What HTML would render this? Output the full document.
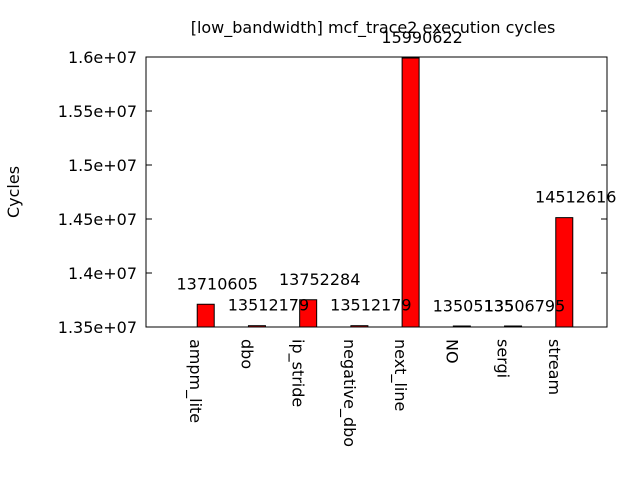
<!DOCTYPE html>
<html><head><meta charset="utf-8"><style>body{margin:0;background:#fff}svg{display:block}text{font-family:"DejaVu Sans","Liberation Sans",sans-serif;font-size:16px;fill:#000}</style></head>
<body>
<svg id="chart" width="640" height="480" viewBox="0 0 640 480">
<text x="373" y="33" text-anchor="middle">[low_bandwidth] mcf_trace2 execution cycles</text>
<text transform="translate(19,192) rotate(-90)" text-anchor="middle">Cycles</text>
<rect x="146" y="57" width="461" height="270" fill="none" stroke="#000" stroke-width="1"/>
<g id="bars"></g>
<g id="marks"></g>
</svg>
<script>
const categories = ["ampm_lite","dbo","ip_stride","negative_dbo","next_line","NO","sergi","stream"];
const values = [13710605,13512179,13752284,13512179,15990622,13505135,13506795,14512616];
const yTicks = [13500000,14000000,14500000,15000000,15500000,16000000];
const yTickLabels = ["1.35e+07","1.4e+07","1.45e+07","1.5e+07","1.55e+07","1.6e+07"];
const X0=146,X1=607,Y0=327,Y1=57,YMIN=13500000,YMAX=16000000;
function yScale(v){return Y0-(v-YMIN)/(YMAX-YMIN)*(Y0-Y1);}
function xScale(i){return X0+(X1-X0)/(categories.length+1)*(i+1);}
const g=document.getElementById('marks');
const gb=document.getElementById('bars');
const NS='http://www.w3.org/2000/svg';
function mk(t,a,p){const e=document.createElementNS(NS,t);for(const k in a)e.setAttribute(k,a[k]);(p||g).appendChild(e);return e;}
yTicks.forEach((v,i)=>{
  const y=yScale(v);
  const t1=mk('line',{x1:X0,x2:X0+6,y1:y,y2:y,stroke:'#000'});
  
  
  const t2=mk('line',{x1:X1-6,x2:X1,y1:y,y2:y,stroke:'#000'});
  
  
  const tx=mk('text',{x:X0-9,y:y+6,'text-anchor':'end'});
  tx.textContent=yTickLabels[i];
  
  
});
categories.forEach((c,i)=>{
  const cx=xScale(i);
  const top=yScale(values[i]);
  const h=Math.max(Y0-top,1);
  const b=mk('rect',{x:cx,y:Y0-h,width:17,height:h,fill:'#ff0000',stroke:'#000','stroke-width':1},gb);
  
  
  const v=mk('text',{x:cx+20,y:Math.min(top,Y0)-15,'text-anchor':'middle'});
  v.textContent=values[i];
  
  
  const l=mk('text',{transform:'translate('+(cx-7)+',339) rotate(90)','text-anchor':'start'});
  l.textContent=c;
  
  
});
</script>
</body></html>
